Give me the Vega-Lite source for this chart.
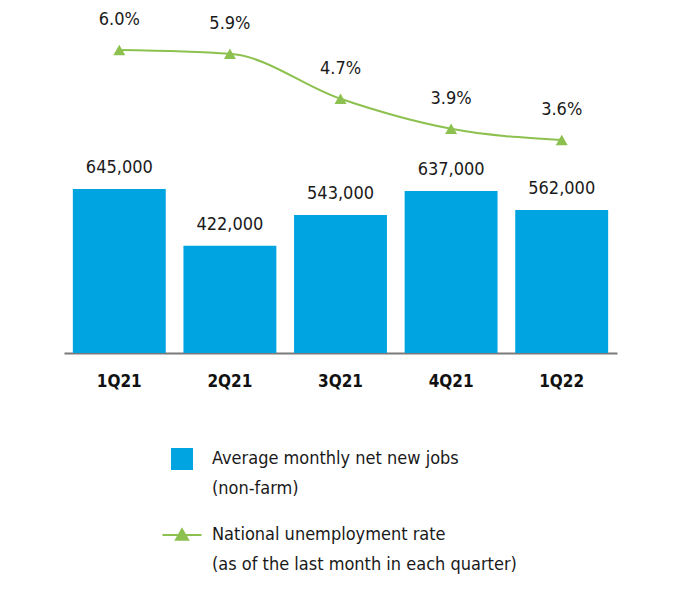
{
  "$schema": "https://vega.github.io/schema/vega-lite/v6.json",
  "autosize": {"type": "none"},
  "padding": {"left": 64, "top": 10, "right": 63, "bottom": 261},
  "width": 553,
  "height": 343,
  "background": "white",
  "config": {
    "view": {"stroke": null},
    "font": "DejaVu Sans Condensed, Roboto, sans-serif",
    "text": {"font": "DejaVu Sans Condensed, Roboto, sans-serif", "fontSize": 18, "fill": "#1a1a1a"}
  },
  "data": {
    "values": [
      {"quarter": "1Q21", "jobs": 645000, "rate": 0.060},
      {"quarter": "2Q21", "jobs": 422000, "rate": 0.059},
      {"quarter": "3Q21", "jobs": 543000, "rate": 0.047},
      {"quarter": "4Q21", "jobs": 637000, "rate": 0.039},
      {"quarter": "1Q22", "jobs": 562000, "rate": 0.036}
    ]
  },
  "encoding": {
    "x": {
      "field": "quarter",
      "type": "nominal",
      "sort": null,
      "scale": {"paddingInner": 0.16, "paddingOuter": 0.08},
      "axis": {
        "title": null,
        "labelAngle": 0,
        "labelFont": "DejaVu Sans Condensed, Roboto, sans-serif",
        "labelFontSize": 17,
        "labelFontWeight": "bold",
        "labelColor": "#111111",
        "labelBaseline": "top",
        "labelPadding": 20,
        "ticks": false,
        "tickSize": 0,
        "domainColor": "#7a7a7a",
        "domainWidth": 2,
        "grid": false
      }
    }
  },
  "layer": [
    {
      "encoding": {
        "y": {
          "field": "jobs",
          "type": "quantitative",
          "scale": {"domain": [0, 1349000], "nice": false, "zero": false},
          "axis": null
        }
      },
      "layer": [
        {
          "mark": {"type": "bar"},
          "encoding": {
            "color": {
              "datum": "Average monthly net new jobs|(non-farm)",
              "type": "nominal",
              "scale": {
                "domain": [
                  "Average monthly net new jobs|(non-farm)",
                  "National unemployment rate|(as of the last month in each quarter)"
                ],
                "range": ["#00a4e0", "#8dc14f"]
              },
              "legend": {
                "title": null,
                "orient": "none",
                "legendX": 109,
                "legendY": 440,
                "padding": 0,
                "symbolSize": 1521,
                "labelOffset": 21,
                "labelLimit": 500,
                "labelFont": "DejaVu Sans Condensed, Roboto, sans-serif",
                "labelFontSize": 18,
                "labelColor": "#1a1a1a",
                "rowPadding": 27,
                "labelExpr": "split(datum.label, '|')",
                "encode": {
                  "symbols": {
                    "update": {
                      "shape": {"signal": "datum.index === 0 ? 'M-0.564,-0.564H0.564V0.564H-0.564Z' : 'M-1,0H1M-0.31,0.24L0,-0.3L0.31,0.24Z'"},
                      "strokeWidth": {"signal": "datum.index === 0 ? 0 : 2"}
                    }
                  },
                  "labels": {
                    "update": {"lineHeight": {"value": 30}}
                  }
                }
              }
            }
          }
        },
        {
          "mark": {"type": "text", "baseline": "alphabetic", "dy": -16},
          "encoding": {
            "text": {"field": "jobs", "type": "quantitative", "format": ","}
          }
        }
      ]
    },
    {
      "encoding": {
        "y": {
          "field": "rate",
          "type": "quantitative",
          "scale": {"domain": [-0.02080, 0.07067], "nice": false, "zero": false},
          "axis": null
        }
      },
      "layer": [
        {
          "mark": {
            "type": "line",
            "interpolate": "monotone",
            "strokeWidth": 2,
            "point": {"shape": "triangle-up", "filled": true, "size": 144}
          },
          "encoding": {
            "color": {
              "datum": "National unemployment rate|(as of the last month in each quarter)",
              "type": "nominal"
            }
          }
        },
        {
          "mark": {"type": "text", "baseline": "alphabetic", "dy": -25},
          "encoding": {
            "text": {"field": "rate", "type": "quantitative", "format": ".1%"}
          }
        }
      ]
    }
  ],
  "resolve": {"scale": {"y": "independent"}}
}
